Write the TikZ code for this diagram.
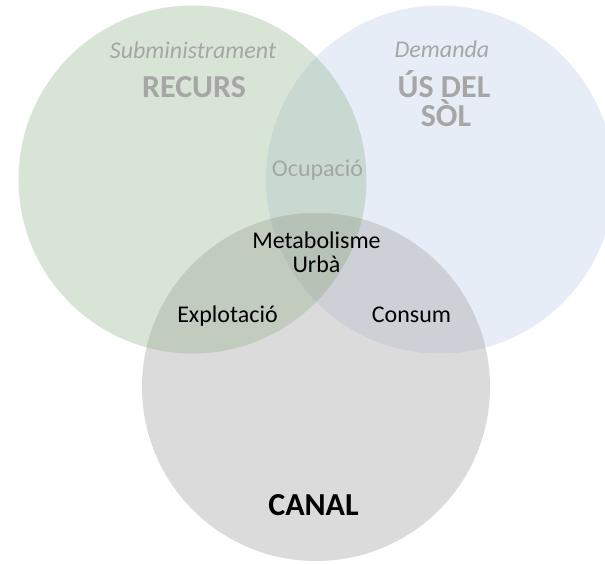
\documentclass[tikz,border=0pt]{standalone}
\usepackage{fontspec}
\setmainfont{Carlito}
\definecolor{cG}{HTML}{D8E4D6}
\definecolor{cB}{HTML}{E6EDF7}
\definecolor{cC}{HTML}{DBDBDB}
\definecolor{cGB}{HTML}{C7D9D1}
\definecolor{cGC}{HTML}{C1CCBF}
\definecolor{cBC}{HTML}{CED0D7}
\definecolor{cGBC}{HTML}{B7C2B6}
\definecolor{txtgray}{HTML}{A6A6A6}
\tikzset{
  lbl/.style={anchor=base, inner sep=0pt, font=\fontsize{24}{24}\selectfont},
  head/.style={anchor=base, inner sep=0pt, font=\fontsize{32}{32}\selectfont\bfseries},
  sub/.style={anchor=base, inner sep=0pt, font=\fontsize{24}{24}\selectfont\itshape},
}
\begin{document}
\begin{tikzpicture}[x=1pt,y=-1pt]
\useasboundingbox (0,0) rectangle (605,563);
\clip (0,0) rectangle (605,563);
\fill[white] (0,0) rectangle (605,563);
\coordinate (G) at (192.5,179.5);
\coordinate (B) at (440,179.5);
\coordinate (C) at (316,387);
\def\R{174pt}
\fill[cG] (G) circle[radius=\R];
\fill[cB] (B) circle[radius=\R];
\fill[cC] (C) circle[radius=\R];
\begin{scope}\clip (G) circle[radius=\R]; \fill[cGB] (B) circle[radius=\R];\end{scope}
\begin{scope}\clip (G) circle[radius=\R]; \fill[cGC] (C) circle[radius=\R];\end{scope}
\begin{scope}\clip (B) circle[radius=\R]; \fill[cBC] (C) circle[radius=\R];\end{scope}
\begin{scope}\clip (G) circle[radius=\R]; \clip (B) circle[radius=\R]; \fill[cGBC] (C) circle[radius=\R];\end{scope}

\node[sub, text=txtgray] (subm) at (193,58) {Subministrament};
\node[head, text=txtgray] (recurs) at (194,97) {RECURS};
\node[sub, text=txtgray] (dem) at (442,57) {Demanda};
\node[head, text=txtgray] (us) at (444,97) {ÚS DEL};
\node[head, text=txtgray] (sol) at (446,126) {SÒL};
\node[lbl, text=txtgray] (ocup) at (317.5,176) {Ocupació};
\node[lbl] (meta) at (316.5,248) {Metabolisme};
\node[lbl] (urba) at (316.5,272) {Urbà};
\node[lbl] (expl) at (227.5,322) {Explotació};
\node[lbl] (cons) at (411.5,322) {Consum};
\node[head] (canal) at (313.5,515) {CANAL};
\end{tikzpicture}
\end{document}
